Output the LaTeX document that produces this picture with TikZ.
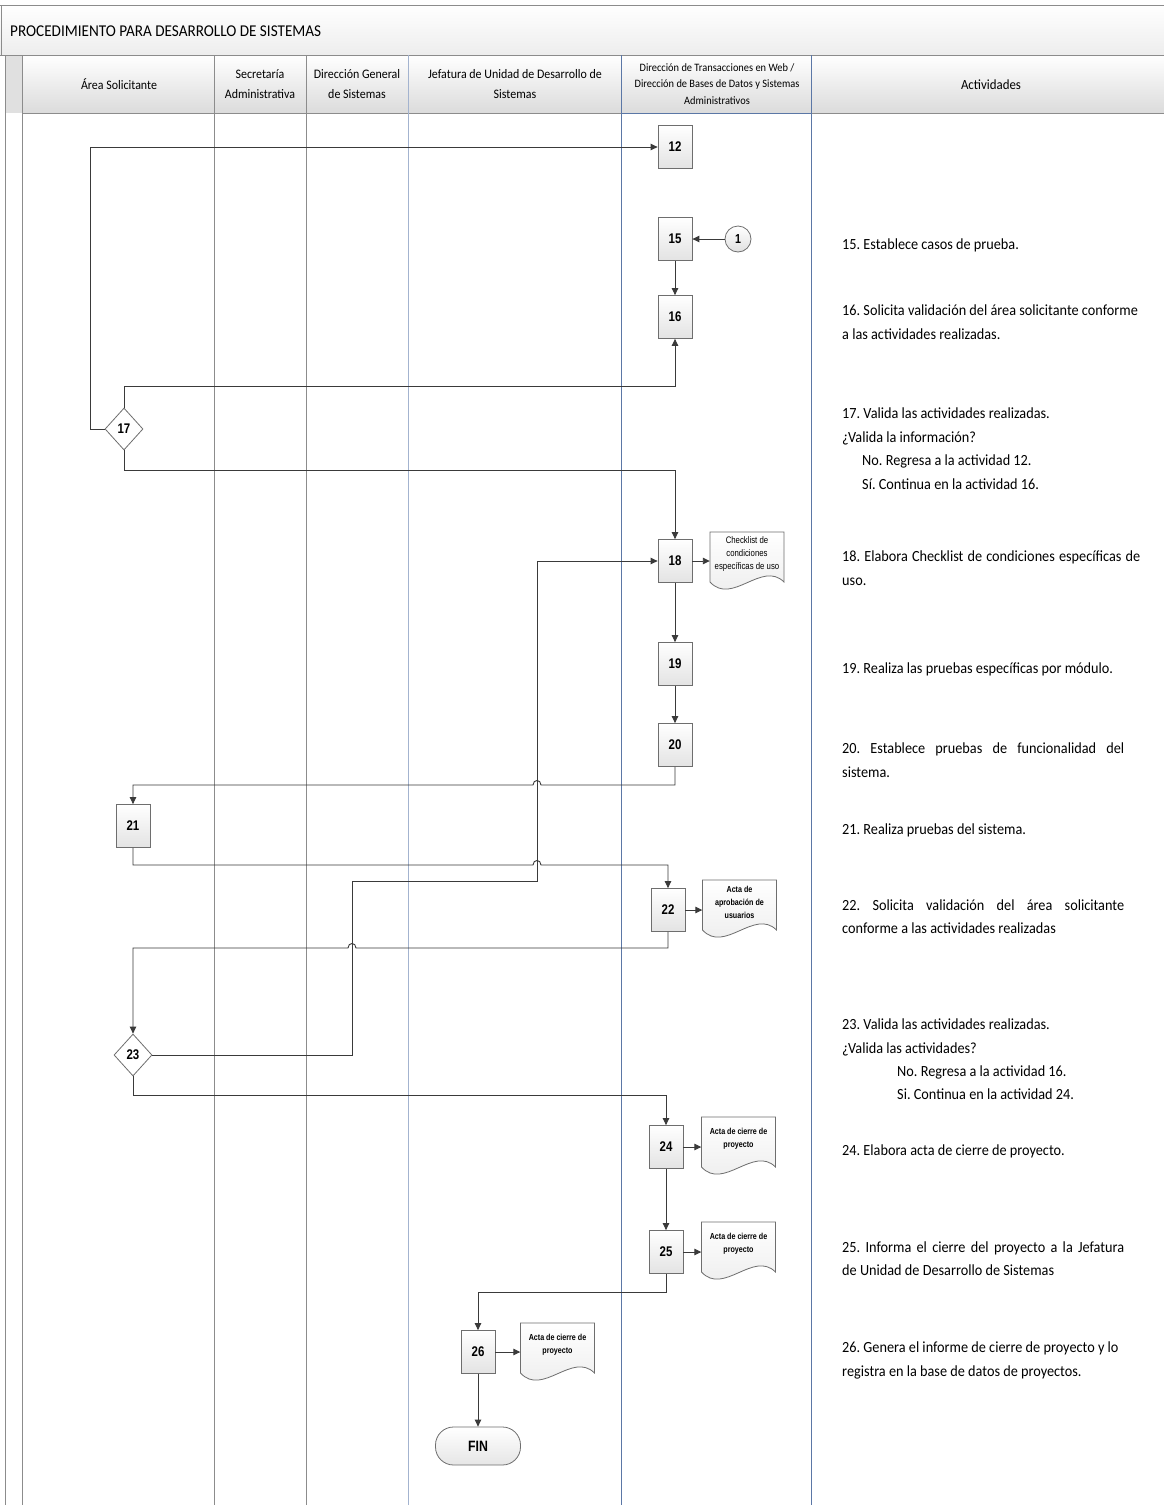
\documentclass[tikz,border=0pt]{standalone}
\usepackage{fontspec}
\setmainfont[FakeStretch=0.92]{Carlito}
\newfontfamily\nf[FakeStretch=0.82]{Liberation Sans}
\usetikzlibrary{arrows.meta,shapes.geometric,calc}
\definecolor{lanegray}{HTML}{8C8C8C}
\definecolor{laneblue}{HTML}{5B77A6}
\definecolor{laneblueb}{HTML}{A3B3CF}
\definecolor{conncol}{HTML}{3A3A3A}
\definecolor{boxline}{HTML}{6E6E6E}
\newcommand{\docnode}[5]{%
  \draw[docline] ({#2-37},{#3-22}) -- ({#2+37},{#3-22}) -- ({#2+37},{#3+28})
    .. controls ({#2+15},{#3+6}) and ({#2-15},{#3+52}) .. ({#2-37},{#3+28}) -- cycle;
  \node[doctext,#4] (#1) at (#2,#3) {#5};}
\frenchspacing
\begin{document}
\begin{tikzpicture}[x=1pt,y=-1pt,
  proc/.style={draw=boxline, line width=0.8pt, top color=white, bottom color=black!11,
    minimum width=34pt, minimum height=43pt, inner sep=0pt,
    font=\nf\bfseries\fontsize{14}{14}\selectfont},
  dec/.style={diamond, draw=boxline, line width=0.8pt, fill=white,
    minimum width=38pt, minimum height=42pt, inner sep=0pt,
    font=\nf\bfseries\fontsize{14}{14}\selectfont},
  term/.style={draw=boxline, line width=0.8pt, rounded corners=18pt, top color=white, bottom color=black!10,
    minimum width=85pt, minimum height=38pt, inner sep=0pt,
    font=\nf\bfseries\fontsize{15}{15}\selectfont},
  conbox/.style={circle, draw=boxline, line width=0.8pt, top color=white, bottom color=black!12,
    minimum size=26pt, inner sep=0pt, font=\nf\bfseries\fontsize{13}{13}\selectfont},
  docline/.style={draw=boxline, line width=0.8pt, top color=white, bottom color=black!8},
  doctext/.style={minimum width=74pt, inner sep=0pt, align=center,
    font=\nf\fontsize{9.5}{13}\selectfont},
  docbold/.style={font=\nf\bfseries\fontsize{8.7}{13}\selectfont},
  conn/.style={draw=conncol, line width=0.9pt},
  arr/.style={conn, -{Triangle[length=7pt,width=6.5pt]}},
  lane/.style={draw=lanegray, line width=0.8pt},
  hdr/.style={align=center, inner sep=0pt, font=\fontsize{13}{20}\selectfont},
  act/.style={anchor=base west, inner sep=0pt, font=\fontsize{15.5}{18}\selectfont},
]
\useasboundingbox (0,0) rectangle (1164,1505);
\fill[white] (0,0) rectangle (1164,1505);
% frame
\fill[top color=white, bottom color=black!7] (0,5) rectangle (1164,55);
\fill[top color=white, bottom color=black!14] (22,55) rectangle (1164,113);
\fill[black!12] (5,55) rectangle (22,113);
\draw[lane] (0,5) -- (1164,5);
\draw[lane] (1,5) -- (1,55);
\draw[lane] (0,55) -- (1164,55);
\draw[lane] (5,55) -- (5,1505);
\draw[lane] (22,55) -- (22,1505);
\draw[lane] (22,113) -- (1164,113);
\draw[lane] (214,55) -- (214,1505);
\draw[lane] (306,55) -- (306,1505);
\draw[lane, draw=laneblueb] (408,55) -- (408,1505);
\draw[lane, draw=laneblue] (621,55) -- (621,1505);
\draw[lane, draw=laneblue] (811,55) -- (811,1505);
\draw[lane, draw=laneblue] (621,113) -- (811,113);
% title and headers
\node[anchor=west, inner sep=0pt, font=\fontsize{16.5}{20}\selectfont] (title) at (10,31) {PROCEDIMIENTO PARA DESARROLLO DE SISTEMAS};
\node[hdr] (h1) at (119,84) {Área Solicitante};
\node[hdr] (h2) at (260,84) {Secretaría\\Administrativa};
\node[hdr] (h3) at (357,84) {Dirección General\\de Sistemas};
\node[hdr] (h4) at (515,84) {Jefatura de Unidad de Desarrollo de\\Sistemas};
\node[hdr, font=\fontsize{11.3}{16.5}\selectfont] (h5) at (717,84) {Dirección de Transacciones en Web /\\Dirección de Bases de Datos y Sistemas\\Administrativos};
\node[hdr, font=\fontsize{14}{16}\selectfont] (h6) at (991,85) {Actividades};
% nodes
\node[proc] (b12) at (675,147) {12};
\node[proc] (b15) at (675,239) {15};
\node[conbox] (c1) at (738,239) {1};
\node[proc] (b16) at (675,317) {16};
\node[dec] (d17) at (124,429) {17};
\node[proc] (b18) at (675,561) {18};
\docnode{doc18}{747}{554}{}{Checklist de\\condiciones\\específicas de uso}
\node[proc] (b19) at (675,664) {19};
\node[proc] (b20) at (675,745) {20};
\node[proc] (b21) at (133,826) {21};
\node[proc] (b22) at (668,910) {22};
\docnode{doc22}{739.5}{902}{docbold}{Acta de\\aprobación de\\usuarios}
\node[dec] (d23) at (133,1055) {23};
\node[proc] (b24) at (666,1147) {24};
\docnode{doc24}{738.5}{1139}{docbold}{Acta de cierre de\\proyecto}
\node[proc] (b25) at (666,1252) {25};
\docnode{doc25}{738.5}{1244}{docbold}{Acta de cierre de\\proyecto}
\node[proc] (b26) at (478,1352) {26};
\docnode{doc26}{557.5}{1345}{docbold}{Acta de cierre de\\proyecto}
\node[term] (fin) at (478,1446) {FIN};
% connectors
\draw[arr] (d17.west) -- ++(-14,0) |- (b12.west);
\draw[arr] (d17.north) -- ++(0,-21) -| (b16.south);
\draw[arr] (d17.south) -- ++(0,20) -| (b18.north);
\draw[arr] (c1.west) -- (b15.east);
\draw[arr] (b15.south) -- (b16.north);
\draw[arr] (b18.east) -- (b18.east -| doc18.west);
\draw[arr] (b18.south) -- (b19.north);
\draw[arr] (b19.south) -- (b20.north);
\draw[arr] (b20.south) -- (675,785) -- (541,785) .. controls (541,779) and (533,779) .. (533,785) -| (b21.north);
\draw[arr] (b21.south) -- (133,865) -- (533,865) .. controls (533,859) and (541,859) .. (541,865) -| (b22.north);
\draw[arr] (b22.east) -- (b22.east -| doc22.west);
\draw[arr] (b22.south) -- (668,948) -- (356,948) .. controls (356,942) and (348,942) .. (348,948) -| (d23.north);
\draw[arr] (d23.east) -- (352,1055) -- (352,881) -- (537,881) |- (b18.west);
\draw[arr] (d23.south) -- (133,1095) -| (b24.north);
\draw[arr] (b24.east) -- (b24.east -| doc24.west);
\draw[arr] (b24.south) -- (b25.north);
\draw[arr] (b25.east) -- (b25.east -| doc25.west);
\draw[arr] (b25.south) -- (666,1292) -| (b26.north);
\draw[arr] (b26.east) -- (b26.east -| doc26.west);
\draw[arr] (b26.south) -- (fin.north);
% activities
\node[act] (a15) at (842,249) {15. Establece casos de prueba.};
\node[act] (a16a) at (842,315) {16. Solicita validación del área solicitante conforme};
\node[act] (a16b) at (842,339) {a las actividades realizadas.};
\node[act] (a17a) at (842,418) {17. Valida las actividades realizadas.};
\node[act] (a17b) at (842,442) {¿Valida la información?};
\node[act] (a17c) at (862,465) {No. Regresa a la actividad 12.};
\node[act] (a17d) at (862,489) {Sí. Continua en la actividad 16.};
\node[act] (a18a) at (842,561) {\makebox[298pt][s]{18. Elabora Checklist de condiciones específicas de}};
\node[act] (a18b) at (842,585) {uso.};
\node[act] (a19) at (842,673) {19. Realiza las pruebas específicas por módulo.};
\node[act] (a20a) at (842,753) {\makebox[282pt][s]{20. Establece pruebas de funcionalidad del}};
\node[act] (a20b) at (842,777) {sistema.};
\node[act] (a21) at (842,834) {21. Realiza pruebas del sistema.};
\node[act] (a22a) at (842,910) {\makebox[282pt][s]{22. Solicita validación del área solicitante}};
\node[act] (a22b) at (842,933) {conforme a las actividades realizadas};
\node[act] (a23a) at (842,1029) {23. Valida las actividades realizadas.};
\node[act] (a23b) at (842,1053) {¿Valida las actividades?};
\node[act] (a23c) at (897,1076) {No. Regresa a la actividad 16.};
\node[act] (a23d) at (897,1099) {Si. Continua en la actividad 24.};
\node[act] (a24) at (842,1155) {24. Elabora acta de cierre de proyecto.};
\node[act] (a25a) at (842,1252) {\makebox[282pt][s]{25. Informa el cierre del proyecto a la Jefatura}};
\node[act] (a25b) at (842,1275) {de Unidad de Desarrollo de Sistemas};
\node[act] (a26a) at (842,1352) {26. Genera el informe de cierre de proyecto y lo};
\node[act] (a26b) at (842,1376) {registra en la base de datos de proyectos.};
\end{tikzpicture}
\end{document}
